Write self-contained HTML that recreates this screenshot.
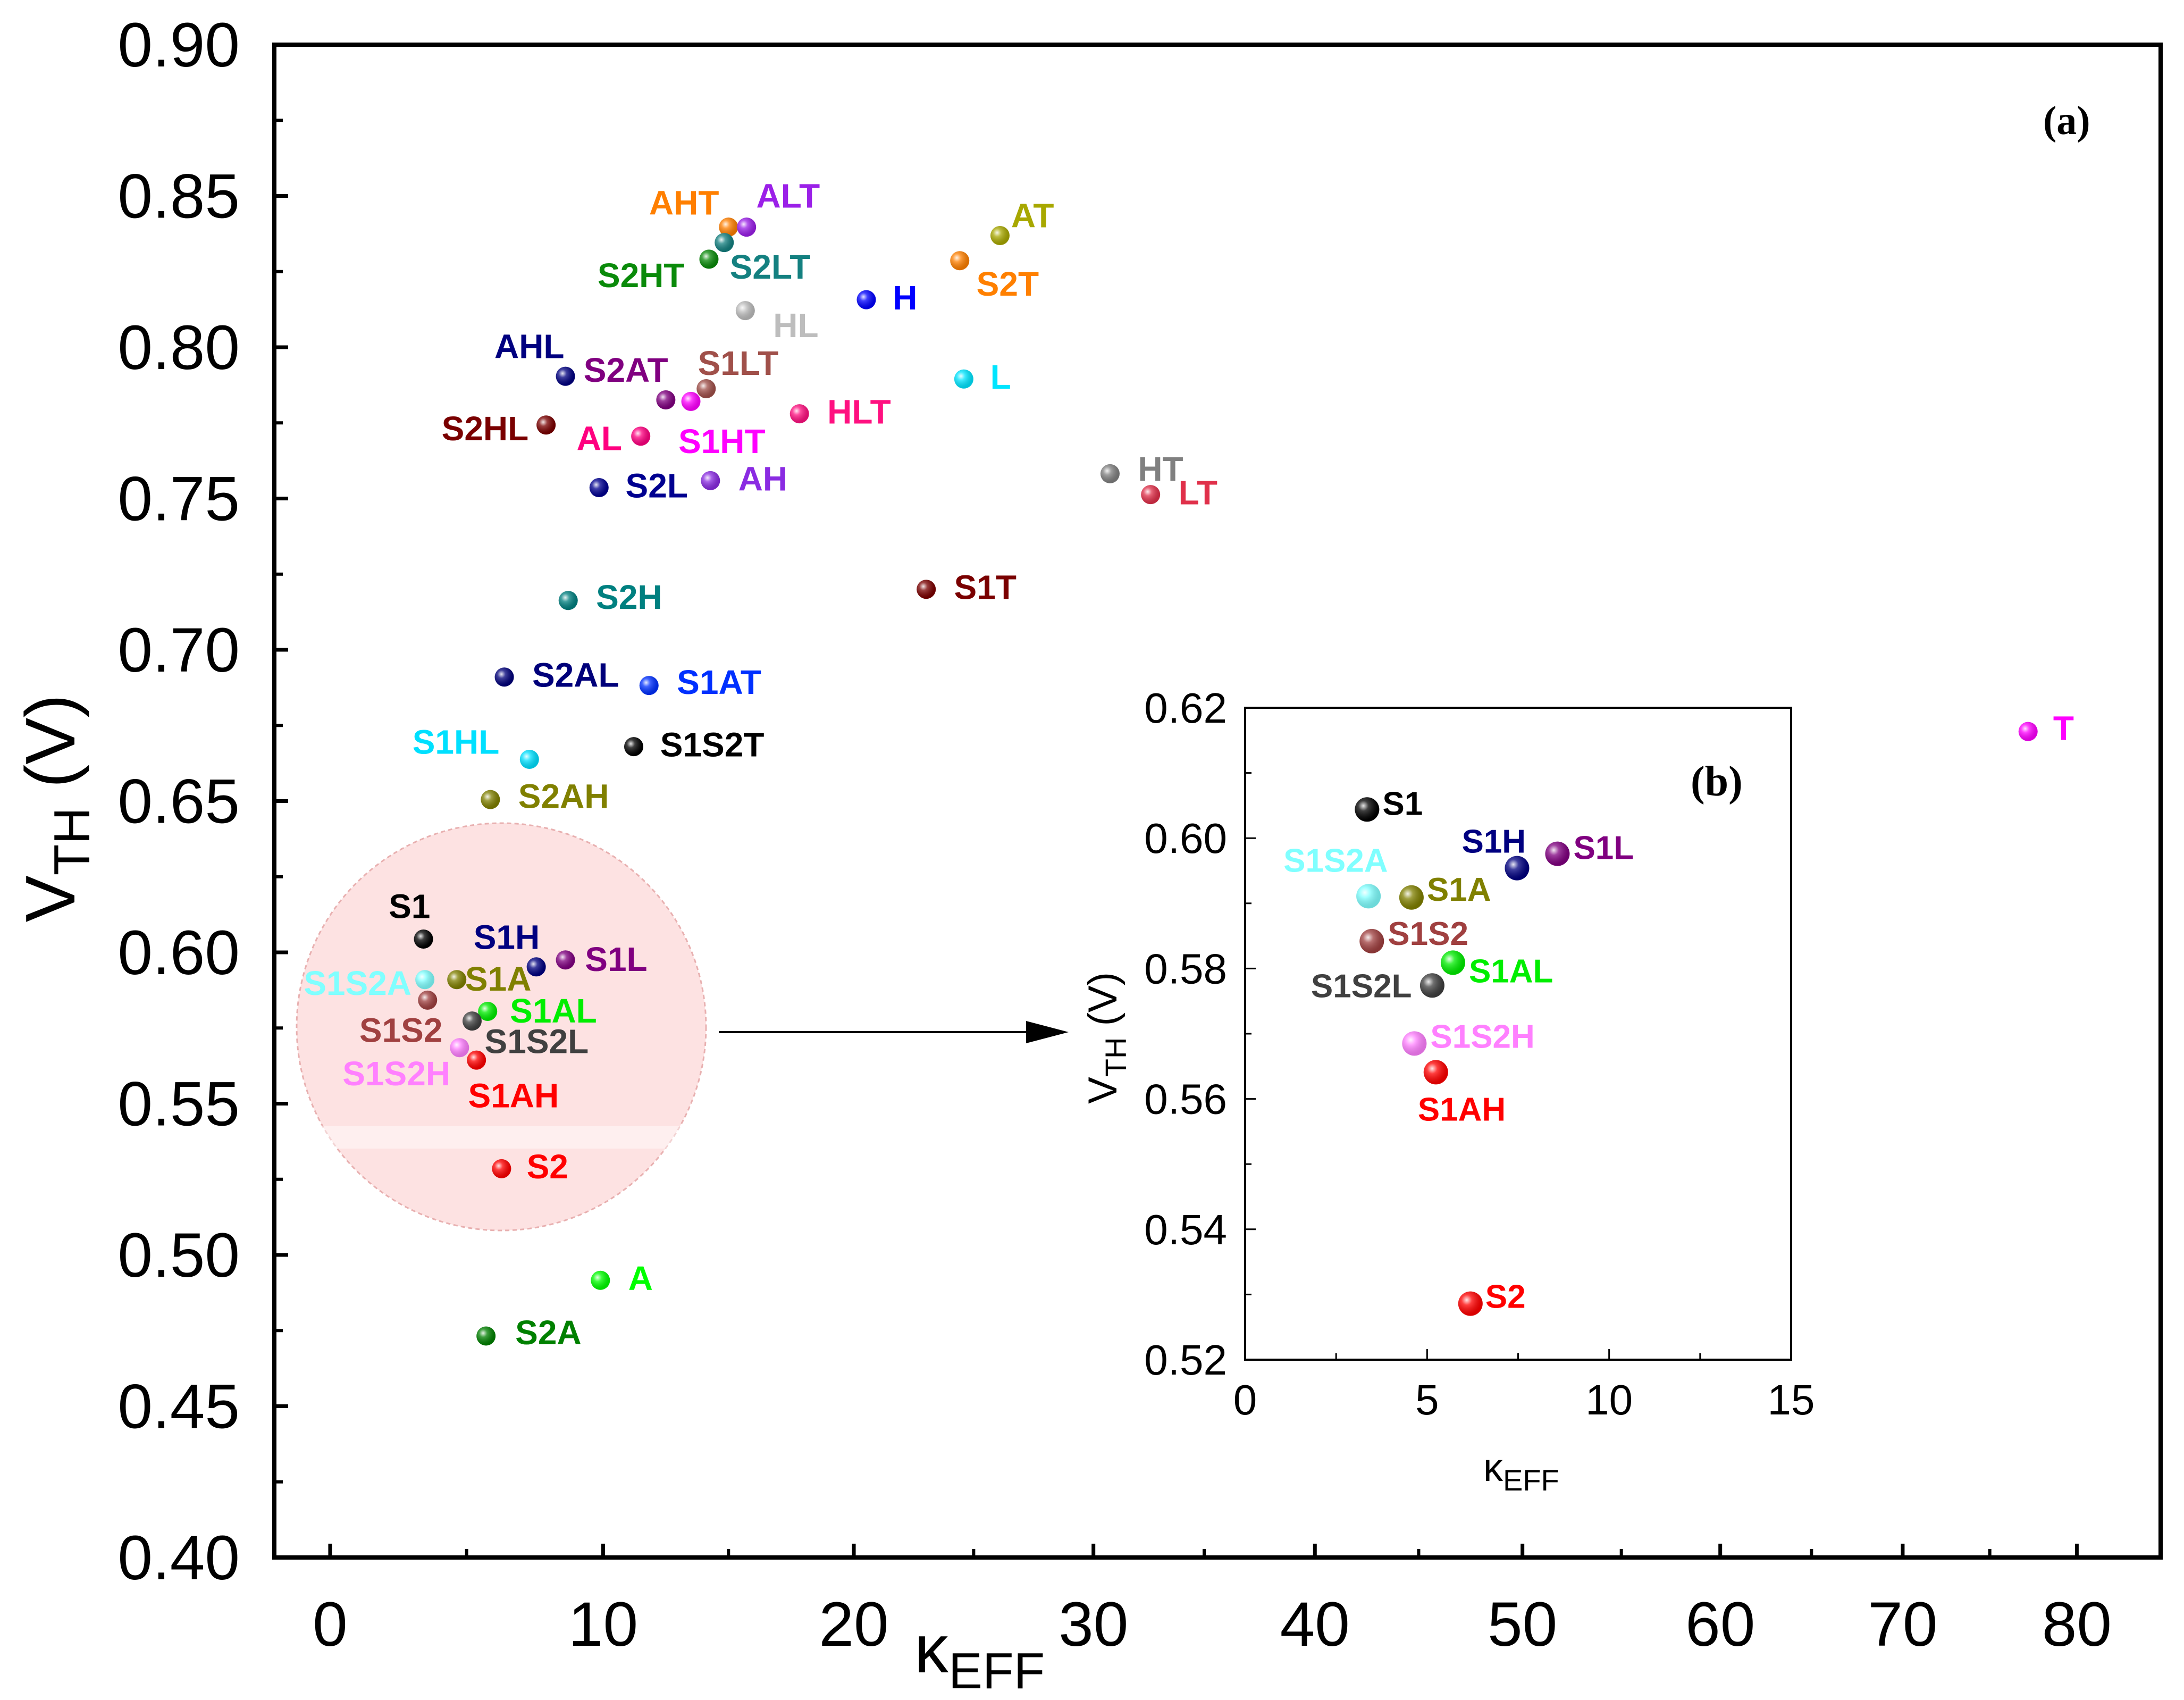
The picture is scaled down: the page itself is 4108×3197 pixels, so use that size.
<!DOCTYPE html>
<html><head><meta charset="utf-8"><style>
html,body{margin:0;padding:0;background:#fff}
svg{display:block}
text{font-family:"Liberation Sans",Arial,sans-serif}
</style></head><body>
<svg id="chart" xmlns="http://www.w3.org/2000/svg" width="4108" height="3197" viewBox="0 0 4108 3197">
<defs>
<radialGradient id="hl" cx="0.35" cy="0.35" r="0.6">
<stop offset="0" stop-color="#fff" stop-opacity="0.9"/>
<stop offset="0.35" stop-color="#fff" stop-opacity="0.25"/>
<stop offset="1" stop-color="#000" stop-opacity="0.15"/>
</radialGradient>
</defs>
<g id="main"></g>
<g id="inset"></g>
</svg>
<script>
// ---- Main chart data ----
const mainLabels = ["AHT","ALT","S2LT","S2HT","AT","S2T","H","HL","AHL","L","S1LT","S2AT","S1HT","HLT","S2HL","AL","S2L","AH","HT","LT","S1T","S2H","S2AL","S1AT","S1S2T","S1HL","S2AH","T","A","S2A","S1","S1S2A","S1A","S1H","S1L","S1S2","S1AL","S1S2L","S1S2H","S1AH","S2"];
const mainK = [15.0,15.72,14.83,14.22,26.10,24.42,20.52,15.67,8.62,24.59,14.11,12.5,13.5,17.83,7.91,11.5,9.85,14.28,30.75,32.58,23.02,8.72,6.38,11.83,11.22,7.30,5.87,77.2,9.90,5.71,3.42,3.47,4.64,7.55,8.62,3.57,5.77,5.20,4.74,5.36,6.28];
const mainV = [0.8397,0.8397,0.8346,0.8291,0.8369,0.8286,0.8157,0.8121,0.7904,0.7895,0.7863,0.7826,0.7821,0.7780,0.7743,0.7706,0.7536,0.7559,0.7582,0.7513,0.7200,0.7163,0.6910,0.6882,0.6680,0.6638,0.6505,0.6730,0.4916,0.4732,0.6044,0.5910,0.5910,0.5952,0.5975,0.5842,0.5805,0.5773,0.5685,0.5644,0.5285];
const mainXTicks = [0,10,20,30,40,50,60,70,80];
const mainYTicks = [0.40,0.45,0.50,0.55,0.60,0.65,0.70,0.75,0.80,0.85,0.90];
// ---- Inset data ----
const insetLabels = ["S1","S1S2A","S1A","S1H","S1L","S1S2","S1AL","S1S2L","S1S2H","S1AH","S2"];
const insetK = [3.35,3.39,4.57,7.47,8.58,3.48,5.71,5.14,4.65,5.24,6.19];
const insetV = [0.6044,0.5911,0.5909,0.5954,0.5976,0.5842,0.5809,0.5774,0.5685,0.5641,0.5286];
const insetXTicks = [0,5,10,15];
const insetYTicks = [0.52,0.54,0.56,0.58,0.60,0.62];

// styles
const colors = {AHT:"#ff7f00",ALT:"#9b20e8",S2LT:"#148080",S2HT:"#0a8a0a",AT:"#a8a800",S2T:"#ff8000",H:"#0000ff",HL:"#bdbdbd",AHL:"#000080",L:"#00e5ff",S1LT:"#a0504a",S2AT:"#800080",S1HT:"#ff00ff",HLT:"#ff1080",S2HL:"#7a0000",AL:"#ff0080",S2L:"#000090",AH:"#8a2be2",HT:"#808080",LT:"#e0304a",S1T:"#7a0000",S2H:"#008080",S2AL:"#00007a",S1AT:"#0030ff",S1S2T:"#000000",S1HL:"#00e0ff",S2AH:"#808000",T:"#ff00ff",A:"#00ff00",S2A:"#008000",S1:"#000000",S1S2A:"#80ffff",S1A:"#808000",S1H:"#000080",S1L:"#800080",S1S2:"#a04040",S1AL:"#00ee00",S1S2L:"#404040",S1S2H:"#ff80ff",S1AH:"#ff0000",S2:"#ff0000"};
const mainOff = {AHT:[-57,-9],ALT:[7,-14],S2LT:[4,26],S2HT:[-80,20],AT:[8,-6],S2T:[12,25],H:[19,7],HL:[20,19],AHL:[-51,-13],L:[19,7],S1LT:[-6,-10],S2AT:[-59,-13],S1HT:[-9,37],HLT:[20,7],S2HL:[-75,11],AL:[-46,10],S2L:[19,7],AH:[20,7],HT:[20,5],LT:[20,7],S1T:[20,7],S2H:[20,6],S2AL:[20,7],S1AT:[20,6],S1S2T:[19,7],S1HL:[-84,-4],S2AH:[20,6],T:[18,6],A:[20,7],S2A:[21,6],S1:[-25,-15],S1S2A:[-87,11],S1A:[6,8],S1H:[-45,-13],S1L:[14,8],S1S2:[-49,30],S1AL:[16,8],S1S2L:[9,23],S1S2H:[-84,27],S1AH:[-6,34],S2:[18,7]};
const insetOff = {S1:[29,10],S1S2A:[-160,-46],S1A:[29,6],S1H:[-104,-29],S1L:[30,10],S1S2:[30,7],S1AL:[30,37],S1S2L:[-228,22],S1S2H:[30,8],S1AH:[-34,91],S2:[28,8]};

const NS="http://www.w3.org/2000/svg";
function mk(tag,attrs,parent,txt){const e=document.createElementNS(NS,tag);for(const k in attrs)e.setAttribute(k,attrs[k]);if(txt!==undefined)e.textContent=txt;parent.appendChild(e);return e;}

const S=2.62;
// main axes (non-linear x axis: tick screen positions as in original figure)
const M={l:516,r:4064,t:84,b:2929};
const tickPx=[237,433,613,785,944,1093,1235,1366,1491].map(p=>p*S);
function mx(k){
  let i=Math.floor(k/10); if(i<0)i=0; if(i>7)i=7;
  return tickPx[i]+(k-i*10)/10*(tickPx[i+1]-tickPx[i]);
}
const my=v=>M.b-(v-0.40)/(0.50)*(M.b-M.t);
const gm=document.getElementById('main');

const circ=mk('ellipse',{cx:943,cy:1931,rx:385,ry:383,fill:'#fde2e2',stroke:'#e8b0b0','stroke-width':3,'stroke-dasharray':'8 6'},gm);


const band=mk('rect',{x:575,y:2118,width:736,height:42,fill:'#fff',opacity:0.45},gm);


const arr=mk('line',{x1:1352,y1:1941,x2:1940,y2:1941,stroke:'#000','stroke-width':4},gm);


const head=mk('polygon',{points:'1930,1920 2010,1941 1930,1962',fill:'#000'},gm);



const frame=mk('rect',{x:M.l,y:M.t,width:M.r-M.l,height:M.b-M.t,fill:'none',stroke:'#000','stroke-width':8},gm);



mainYTicks.forEach((v,i)=>{
  const y=my(v);
  const t=mk('line',{x1:M.l,y1:y,x2:M.l+26,y2:y,stroke:'#000','stroke-width':7},gm);
  
  
  if(i<mainYTicks.length-1){const y2=my(v+0.025);
    const m=mk('line',{x1:M.l,y1:y2,x2:M.l+16,y2:y2,stroke:'#000','stroke-width':6},gm);
    
    }
  const lb=mk('text',{x:451,y:y+41,'font-size':118,'text-anchor':'end',fill:'#000'},gm,v.toFixed(2));
  
  
});
mainXTicks.forEach((k,i)=>{
  const x=mx(k);
  const t=mk('line',{x1:x,y1:M.b,x2:x,y2:M.b-26,stroke:'#000','stroke-width':7},gm);
  
  
  if(i<mainXTicks.length-1){const x2=mx(k+5);
    const m=mk('line',{x1:x2,y1:M.b,x2:x2,y2:M.b-16,stroke:'#000','stroke-width':6},gm);
    
    }
  const lb=mk('text',{x:x,y:3095,'font-size':118,'text-anchor':'middle',fill:'#000'},gm,String(k));
  
  
});
const yt=mk('text',{x:0,y:0,'font-size':132,'text-anchor':'middle',transform:'translate(140,1520) rotate(-90)',fill:'#000'},gm);


yt.innerHTML='V<tspan font-size="96" dy="28">TH</tspan><tspan dy="-28"> (V)</tspan>';
const xt=mk('text',{x:1720,y:3145,'font-size':128,fill:'#000'},gm);


xt.innerHTML='κ<tspan font-size="96" dy="30">EFF</tspan>';
const pa=mk('text',{x:3843,y:252,'font-size':76,'font-weight':'bold',style:'font-family:"Liberation Serif",serif',fill:'#000'},gm,'(a)');



function dot(parent,x,y,r,c){
  const d=mk('circle',{cx:x,cy:y,r:r,fill:c},parent);
  
  
  const h=mk('circle',{cx:x,cy:y,r:r,fill:'url(#hl)'},parent);
  
  
}
mainLabels.forEach((n,i)=>{
  const x=mx(mainK[i]),y=my(mainV[i]);
  dot(gm,x,y,18,colors[n]);
  const o=mainOff[n];
  const lb=mk('text',{x:x+o[0]*S,y:y+o[1]*S,'font-size':64,'font-weight':'bold',fill:colors[n]},gm,n);
  
  
});

// inset
const I={l:2342,r:3369,t:1331,b:2557};
const ix=k=>I.l+k/15*(I.r-I.l);
const iy=v=>I.b-(v-0.52)/0.10*(I.b-I.t);
const gi=document.getElementById('inset');
const bg=mk('rect',{x:I.l,y:I.t,width:I.r-I.l,height:I.b-I.t,fill:'#fff',stroke:'#000','stroke-width':4},gi);


insetYTicks.forEach((v,i)=>{
  const y=iy(v);
  const t=mk('line',{x1:I.l,y1:y,x2:I.l+20,y2:y,stroke:'#000','stroke-width':3},gi);
  
  
  if(i<insetYTicks.length-1){const y2=iy(v+0.01);
    const m=mk('line',{x1:I.l,y1:y2,x2:I.l+12,y2:y2,stroke:'#000','stroke-width':3},gi);
    
    }
  const lb=mk('text',{x:2308,y:y+28,'font-size':80,'text-anchor':'end',fill:'#000'},gi,v.toFixed(2));
  
  
});
insetXTicks.forEach((k,i)=>{
  const x=ix(k);
  const t=mk('line',{x1:x,y1:I.b,x2:x,y2:I.b-20,stroke:'#000','stroke-width':3},gi);
  
  
  if(i<insetXTicks.length-1){const x2=ix(k+2.5);
    const m=mk('line',{x1:x2,y1:I.b,x2:x2,y2:I.b-12,stroke:'#000','stroke-width':3},gi);
    
    }
  const lb=mk('text',{x:x,y:2660,'font-size':80,'text-anchor':'middle',fill:'#000'},gi,String(k));
  
  
});
const iyt=mk('text',{x:0,y:0,'font-size':76,'text-anchor':'middle',transform:'translate(2100,1952) rotate(-90)',fill:'#000'},gi);


iyt.innerHTML='V<tspan font-size="56" dy="18">TH</tspan><tspan dy="-18"> (V)</tspan>';
const ixt=mk('text',{x:2790,y:2785,'font-size':74,fill:'#000'},gi);


ixt.innerHTML='κ<tspan font-size="56" dy="18">EFF</tspan>';
const pb=mk('text',{x:3180,y:1496,'font-size':80,'font-weight':'bold',style:'font-family:"Liberation Serif",serif',fill:'#000'},gi,'(b)');


insetLabels.forEach((n,i)=>{
  const x=ix(insetK[i]),y=iy(insetV[i]);
  dot(gi,x,y,23,colors[n]);
  const o=insetOff[n];
  const lb=mk('text',{x:x+o[0],y:y+o[1],'font-size':62,'font-weight':'bold',fill:colors[n]},gi,n);
  
  
});
</script>
</body></html>
